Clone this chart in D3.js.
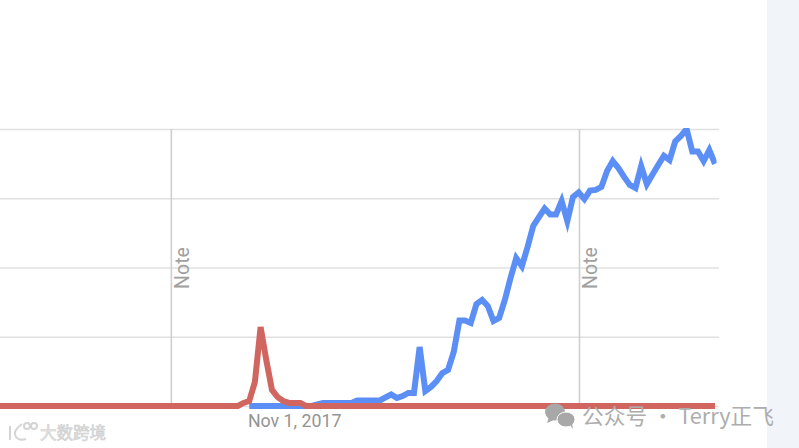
<!DOCTYPE html>
<html>
<head>
<meta charset="utf-8">
<title>Trend</title>
<script src="https://cdn.jsdelivr.net/npm/d3@7"></script>
<style>
    html, body { margin: 0; padding: 0; background: #fff; overflow: hidden; }
    svg { display: block; }
    text { font-family: Roboto, "Noto Sans CJK SC", sans-serif; }
</style>
</head>
<body>
<svg id="chart" width="799" height="448"></svg>
<script>
// weekly interest (0-100)
var redValues = [
    0, 0, 0, 0, 0, 0, 0, 0, 0, 0,
    0, 0, 0, 0, 0, 0, 0, 0, 0, 0,
    0, 0, 0, 0, 0, 0, 0, 0, 0, 0,
    0, 0, 0, 0, 0, 0, 0, 0, 0, 0,
    0, 0, 0,
    1.1, 1.8, 8.7, 28.5, 16.6, 5.8, 3.2, 1.8, 1.1, 1.1, 1.1,
    0, 0, 0, 0, 0, 0, 0, 0, 0, 0,
    0, 0, 0, 0, 0, 0, 0, 0, 0, 0,
    0, 0, 0, 0, 0, 0, 0, 0, 0, 0,
    0, 0, 0, 0, 0, 0, 0, 0, 0, 0,
    0, 0, 0, 0, 0, 0, 0, 0, 0, 0,
    0, 0, 0, 0, 0, 0, 0, 0, 0, 0,
    0, 0, 0, 0, 0, 0, 0, 0, 0, 0,
    0, 0, 0
];
// the blue term only has data from the 45th week on
var blueValues = [
    0, 0, 0, 0, 0, 0, 0, 0, 0, 0, 0, 0,
    0.6, 1.1, 1.1, 1.1, 1.1, 1.1, 1.1, 2, 2, 2, 2, 2,
    3.1, 4.2, 2.9, 3.6, 4.7, 4.7, 21.3, 5.4, 6.9, 9, 11.9, 13, 19.5,
    30.9, 30.9, 30, 36.8, 38.3, 36.1, 30.7, 31.8, 38.3, 46.2, 53.4, 50.5, 57.4,
    65, 68.2, 71.3, 69.1, 69.1, 74, 66.8, 75.5, 77.1, 74.7, 77.8, 78, 79.1,
    84.8, 88.4, 85.9, 82.7, 79.8, 78.7, 86.6, 80.1, 83.6, 87, 90.3, 88.8,
    95.5, 97.5, 100, 91.9, 91.9, 88.4, 92.4, 87.4
];
var yTicks = [0, 25, 50, 75, 100];
var noteDates = ['2017-06-02', '2018-10-18'];
var xTickDates = ['2017-11-01'];
var xTickLabels = ['Nov 1, 2017'];
var firstWeek = '2016-11-02';

var parseDay = d3.utcParse('%Y-%m-%d');
var weeks = redValues.map(function (v, i) {
    return d3.utcDay.offset(parseDay(firstWeek), i * 7);
});
var blueWeeks = weeks.slice(redValues.length - blueValues.length);

var svg = d3.select('#chart');

var x = d3.scaleUtc()
    .domain([weeks[0], weeks[weeks.length - 1]])
    .range([-0.68, 715]);
var y = d3.scaleLinear().domain([0, 100]).range([406, 129]);

// side panel of the page
svg.append('rect')
    .attr('x', 767).attr('y', 0)
    .attr('width', 32).attr('height', 448)
    .attr('fill', '#f1f4f9');

svg.append('clipPath').attr('id', 'plot-clip')
    .append('rect')
    .attr('x', 0).attr('y', 128)
    .attr('width', 716.5).attr('height', 290);

// horizontal grid
svg.append('g').selectAll('line')
    .data(yTicks)
    .enter().append('line')
    .attr('x1', 0)
    .attr('x2', 719)
    .attr('y1', function (d) { return y(d) + 0.5; })
    .attr('y2', function (d) { return y(d) + 0.5; })
    .attr('stroke', '#e0e0e0')
    .attr('stroke-width', 1.4);

// note markers
var notes = svg.append('g').selectAll('g')
    .data(noteDates)
    .enter().append('g')
    .attr('transform', function (d) { return 'translate(' + x(parseDay(d)) + ',0)'; });

notes.append('line')
    .attr('y1', y(100))
    .attr('y2', y(0) + 2)
    .attr('stroke', '#cfcfcf')
    .attr('stroke-width', 1.6);

notes.append('text')
    .attr('transform', 'translate(18,268) rotate(-90)')
    .attr('text-anchor', 'middle')
    .attr('font-size', 19.5)
    .attr('fill', '#a0a0a0')
    .text('Note');

var line = d3.line()
    .x(function (d) { return x(d.week); })
    .y(function (d) { return y(d.value); });

function toPoints(dates, values) {
    return values.map(function (v, i) { return { week: dates[i], value: v }; });
}

var plot = svg.append('g').attr('clip-path', 'url(#plot-clip)');

plot.append('path')
    .attr('d', line(toPoints(blueWeeks, blueValues)))
    .attr('fill', 'none')
    .attr('stroke', '#5b8ff5')
    .attr('stroke-width', 6);

plot.append('path')
    .attr('d', line(toPoints(weeks, redValues)))
    .attr('fill', 'none')
    .attr('stroke', '#d0665f')
    .attr('stroke-width', 6);

// x axis label
svg.append('g').selectAll('text')
    .data(xTickDates)
    .enter().append('text')
    .attr('x', function (d) { return x(parseDay(d)); })
    .attr('y', 427)
    .attr('text-anchor', 'middle')
    .attr('font-size', 17.8)
    .attr('fill', '#949494')
    .text(function (d, i) { return xTickLabels[i]; });

// wechat watermark, bottom right
var wechat = svg.append('g').attr('fill', '#a8a8a8');
wechat.append('ellipse').attr('cx', 555).attr('cy', 412).attr('rx', 10).attr('ry', 8.5);
wechat.append('path').attr('d', 'M549,417 l-2,6 l7,-3 z');
wechat.append('ellipse').attr('cx', 566).attr('cy', 419.5).attr('rx', 9).attr('ry', 7.5)
    .attr('stroke', '#fff').attr('stroke-width', 1);
wechat.append('path').attr('d', 'M570,425 l3,4 l-1,-6 z');

svg.append('text')
    .attr('x', 582)
    .attr('y', 424)
    .attr('font-size', 21.7)
    .attr('fill', '#adadad')
    .style('font-family', '"Noto Sans CJK SC", sans-serif')
    .text('公众号 · Terry正飞');

// faint site watermark, bottom left
var logo = svg.append('g')
    .attr('fill', 'none')
    .attr('stroke', '#d4d4d4')
    .attr('stroke-width', 2);
logo.append('path').attr('d', 'M10,426 v14 M22,424 q-10,7 -6,13 q3,4 10,2');
logo.append('circle').attr('cx', 27).attr('cy', 426).attr('r', 3);
logo.append('circle').attr('cx', 34).attr('cy', 426).attr('r', 3);

svg.append('text')
    .attr('x', 40)
    .attr('y', 439)
    .attr('font-size', 16.5)
    .attr('fill', '#e6e6e6')
    .attr('stroke', '#cccccc')
    .attr('stroke-width', 0.6)
    .style('font-family', '"Noto Sans CJK SC", sans-serif')
    .text('大数跨境');
</script>
</body>
</html>
